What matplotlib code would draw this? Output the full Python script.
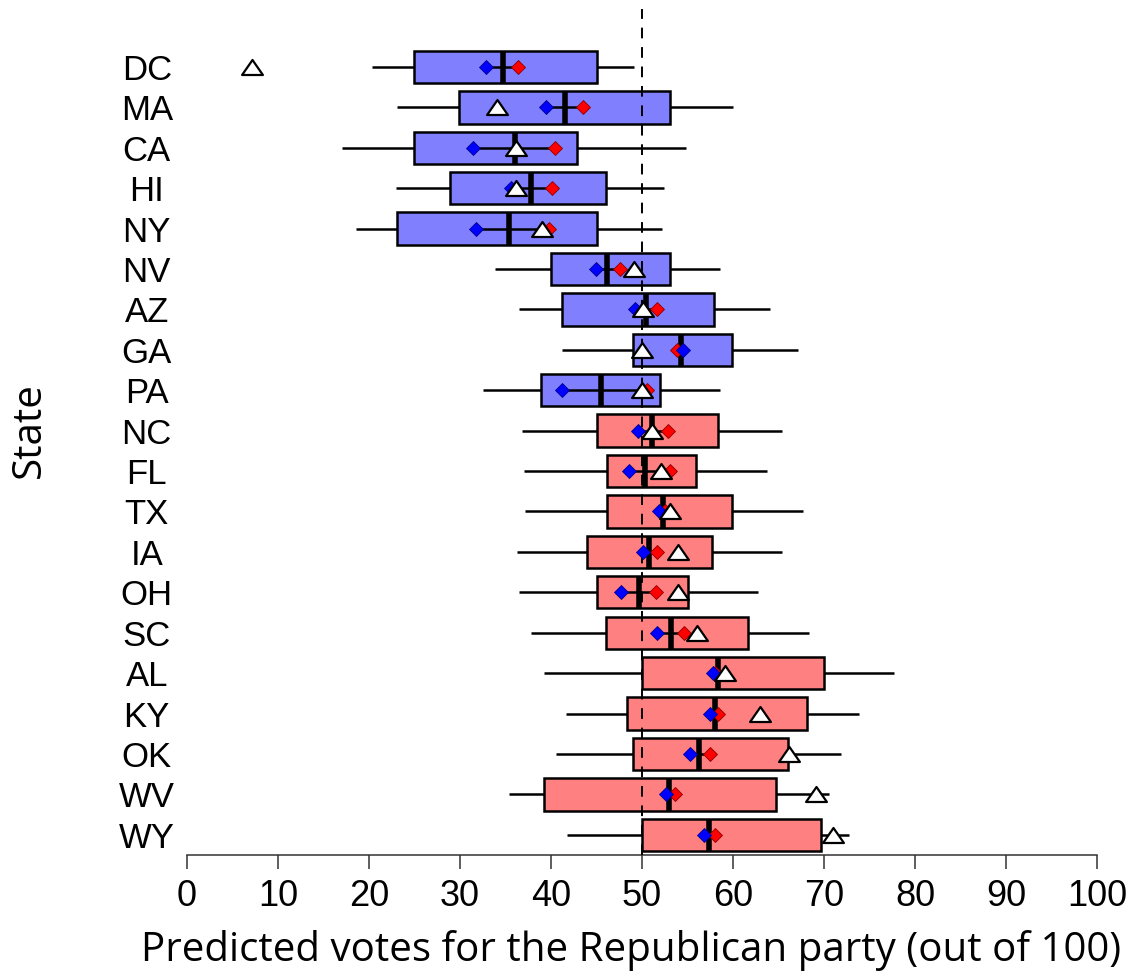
import matplotlib.pyplot as plt
from matplotlib.path import Path
import numpy as np

plt.rcParams["font.family"] = ["Liberation Sans", "DejaVu Sans"]

states = ["DC", "MA", "CA", "HI", "NY", "NV", "AZ", "GA", "PA", "NC",
          "FL", "TX", "IA", "OH", "SC", "AL", "KY", "OK", "WV", "WY"]
party = ["D"] * 9 + ["R"] * 11

# box stats
whisk_lo = [20.3, 23.1, 17.0, 23.0, 18.6, 33.8, 36.5, 41.2, 32.5, 36.8,
            37.0, 37.1, 36.3, 36.5, 37.8, 39.2, 41.6, 40.6, 35.4, 41.8]
q1 = [24.9, 29.9, 24.9, 28.9, 23.1, 40.0, 41.2, 49.0, 38.9, 45.1,
      46.1, 46.2, 44.0, 45.1, 46.0, 50.0, 48.4, 49.0, 39.2, 50.0]
median = [34.7, 41.5, 36.0, 37.8, 35.4, 46.2, 50.4, 54.3, 45.5, 51.1,
          50.3, 52.3, 50.8, 49.7, 53.2, 58.4, 58.0, 56.3, 53.0, 57.4]
q3 = [45.1, 53.1, 42.9, 46.0, 45.0, 53.1, 57.9, 59.9, 52.0, 58.4,
      55.9, 59.9, 57.7, 55.0, 61.7, 70.0, 68.1, 66.0, 64.7, 69.7]
whisk_hi = [49.1, 60.0, 54.8, 52.4, 52.2, 58.6, 64.1, 67.1, 58.6, 65.4,
            63.7, 67.7, 65.4, 62.7, 68.4, 77.7, 73.9, 71.9, 70.5, 72.8]

blue_pts = [32.9, 39.5, 31.4, 35.6, 31.8, 44.9, 49.2, 54.5, 41.2, 49.6,
            48.6, 51.9, 50.1, 47.7, 51.7, 57.8, 57.5, 55.3, 52.6, 56.8]
red_pts = [36.4, 43.5, 40.4, 40.1, 39.8, 47.6, 51.7, 53.8, 50.5, 52.9,
           53.1, 52.5, 51.7, 51.5, 54.6, 58.0, 58.3, 57.5, 53.6, 58.0]
actual = [7.1, 34.1, 36.1, 36.1, 39.0, 49.1, 50.1, 50.0, 50.0, 51.1,
          52.1, 53.1, 54.0, 54.0, 56.0, 59.1, 63.0, 66.1, 69.1, 71.0]

box_col = {"D": "#8080ff", "R": "#ff8080"}

W, H = 1134, 980
fig = plt.figure(figsize=(W / 100, H / 100), dpi=100)
ax = fig.add_axes([187 / W, 1 - 855 / H, 910 / W, 846 / H])

y = np.arange(1, len(states) + 1)
q1a, q3a = np.array(q1), np.array(q3)

ax.barh(y, q3a - q1a, left=q1a, height=0.8,
        color=[box_col[p] for p in party], edgecolor="black", linewidth=1.8, zorder=2)
ax.hlines(y, whisk_lo, q1, color="black", lw=1.8, zorder=2)
ax.hlines(y, q3, whisk_hi, color="black", lw=1.8, zorder=2)
ax.axvline(50, color="black", lw=1.4, ls=(0, (5.5, 4.5)), zorder=3)
ax.vlines(median, y - 0.4, y + 0.4, color="black", lw=4, zorder=3)
ax.hlines(y, blue_pts, red_pts, color="black", lw=1.8, zorder=3)

ax.plot(red_pts, y, ls="none", marker="D", ms=7.5, mfc="#ff0000", mec="#8b0000", mew=0.6, zorder=4)
ax.plot(blue_pts, y, ls="none", marker="D", ms=7.5, mfc="#0000ff", mec="#00008b", mew=0.6, zorder=5)
tri = Path([(-1, -0.72), (1, -0.72), (0, 0.72), (-1, -0.72)], closed=True)
ax.plot(actual, y, ls="none", marker=tri, ms=15, mfc="white", mec="black", mew=1.6, zorder=6)

ax.set_xlim(0, 100)
ax.set_ylim(20.5, 1 - 58 / 40.47)

for s in ["top", "right", "left"]:
    ax.spines[s].set_visible(False)
ax.spines["bottom"].set_bounds(0, 100)
ax.spines["bottom"].set_color("#333333")
ax.spines["bottom"].set_linewidth(1.1)

ax.set_xticks(np.arange(0, 101, 10))
ax.tick_params(axis="x", length=10, width=1.1, color="#333333", pad=7, labelsize=26)
ax.set_yticks(y)
ax.set_yticklabels(states)
ax.tick_params(axis="y", length=0, pad=29, labelsize=25)
for lab in ax.get_yticklabels():
    lab.set_horizontalalignment("center")

fig.text(631 / W, 1 - 950 / H, "Predicted votes for the Republican party (out of 100)",
         ha="center", va="center", fontsize=29, family="Open Sans")
fig.text(30 / W, 1 - 430 / H, "State", rotation=90,
         ha="center", va="center", fontsize=29, family="Open Sans")

fig.savefig("out.png", dpi=100)
